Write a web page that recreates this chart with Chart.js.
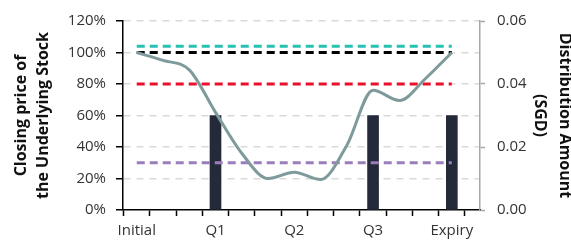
<!DOCTYPE html>
<html>
<head>
<meta charset="utf-8">
<script src="https://cdn.jsdelivr.net/npm/chart.js@4/dist/chart.umd.min.js"></script>
<style>
  html, body { margin: 0; padding: 0; background: #fff; }
  #wrap { width: 571px; height: 249px; }
</style>
</head>
<body>
<div id="wrap"><canvas id="canvas"></canvas></div>
<script>
// x positions are observation steps, labels only on the quarterly dates
const tickLabels = ['Initial', '', '', 'Q1', '', '', 'Q2', '', '', 'Q3', '', '', 'Expiry'];
const pricePath = [100, 95, 89, 62, 36, 20, 24, 19.3, 41, 76, 69.5, 83.5, 100];
const payoutSteps = [3, 9, 12];
const payoutAmounts = [0.03, 0.03, 0.03];
const levelValues = [104, 100, 80, 30];
const levelColors = ['#27c1b1', '#000000', '#ec0f2b', '#9a7dbb'];

const fontFamily = "'Open Sans', sans-serif";

const levelSets = levelValues.map((v, i) => ({
    type: 'line',
    data: [{ x: 0, y: v }, { x: tickLabels.length - 1, y: v }],
    borderColor: levelColors[i],
    borderWidth: 3,
    borderDash: [8, 5],
    pointRadius: 0,
    yAxisID: 'y',
    order: 2
}));

const ctx = document.getElementById('canvas').getContext('2d');

new Chart(ctx, {
    data: {
        datasets: [
            {
                type: 'bar',
                data: payoutSteps.map((s, i) => ({ x: s, y: payoutAmounts[i] })),
                backgroundColor: '#252a3b',
                barThickness: 11,
                yAxisID: 'y1',
                order: 3
            },
            ...levelSets,
            {
                type: 'line',
                data: pricePath.map((v, i) => ({ x: i, y: v })),
                borderColor: '#7f9a9b',
                borderWidth: 3,
                cubicInterpolationMode: 'monotone',
                pointRadius: 0,
                yAxisID: 'y',
                order: 1
            }
        ]
    },
    options: {
        responsive: true,
        maintainAspectRatio: false,
        animation: false,
        layout: { padding: { top: 16, right: 0, bottom: 0, left: 0 } },
        plugins: {
            legend: { display: false },
            tooltip: { enabled: false }
        },
        scales: {
            x: {
                type: 'linear',
                min: 0,
                max: 12.55,
                afterFit: s => { s.height = 39; },
                grid: {
                    drawOnChartArea: false,
                    tickLength: 6,
                    tickColor: '#000',
                    tickWidth: 1.5
                },
                border: { color: '#000', width: 1.5 },
                ticks: {
                    stepSize: 1,
                    includeBounds: false,
                    autoSkip: false,
                    maxRotation: 0,
                    padding: 6,
                    color: '#333',
                    font: { family: fontFamily, size: 15 },
                    callback: v => tickLabels[v] || ''
                }
            },
            y: {
                position: 'left',
                min: 0,
                max: 120,
                afterFit: s => { s.width = 123; },
                grid: {
                    color: c => c.tick && c.tick.value === 0 ? 'rgba(0,0,0,0)' : '#d9d9d9',
                    lineWidth: 1.5,
                    tickLength: 7,
                    tickColor: '#000',
                    tickWidth: 1.5
                },
                border: { color: '#000', width: 1.5, dash: [7, 6] },
                ticks: {
                    stepSize: 20,
                    padding: 10,
                    color: '#333',
                    font: { family: fontFamily, size: 15 },
                    callback: v => v + '%'
                },
                title: {
                    display: true,
                    text: ['Closing price of', 'the Underlying Stock'],
                    color: '#111',
                    font: { family: fontFamily, size: 16, weight: 'bold', lineHeight: 1.375 },
                    padding: { top: 10, bottom: 0 }
                }
            },
            y1: {
                position: 'right',
                min: 0,
                max: 0.06,
                afterFit: s => { s.width = 91; },
                grid: {
                    drawOnChartArea: false,
                    tickLength: 5,
                    tickColor: '#a6a6a6',
                    tickWidth: 1.5
                },
                border: { color: '#a6a6a6', width: 1.5 },
                ticks: {
                    stepSize: 0.02,
                    padding: 12,
                    color: '#333',
                    font: { family: fontFamily, size: 15 },
                    callback: v => v.toFixed(2)
                },
                title: {
                    display: true,
                    text: ['Distribution Amount', '(SGD)'],
                    color: '#111',
                    font: { family: fontFamily, size: 16, weight: 'bold', lineHeight: 1.56 },
                    padding: { top: -6.5, bottom: 0 }
                }
            }
        }
    }
});
</script>
</body>
</html>
